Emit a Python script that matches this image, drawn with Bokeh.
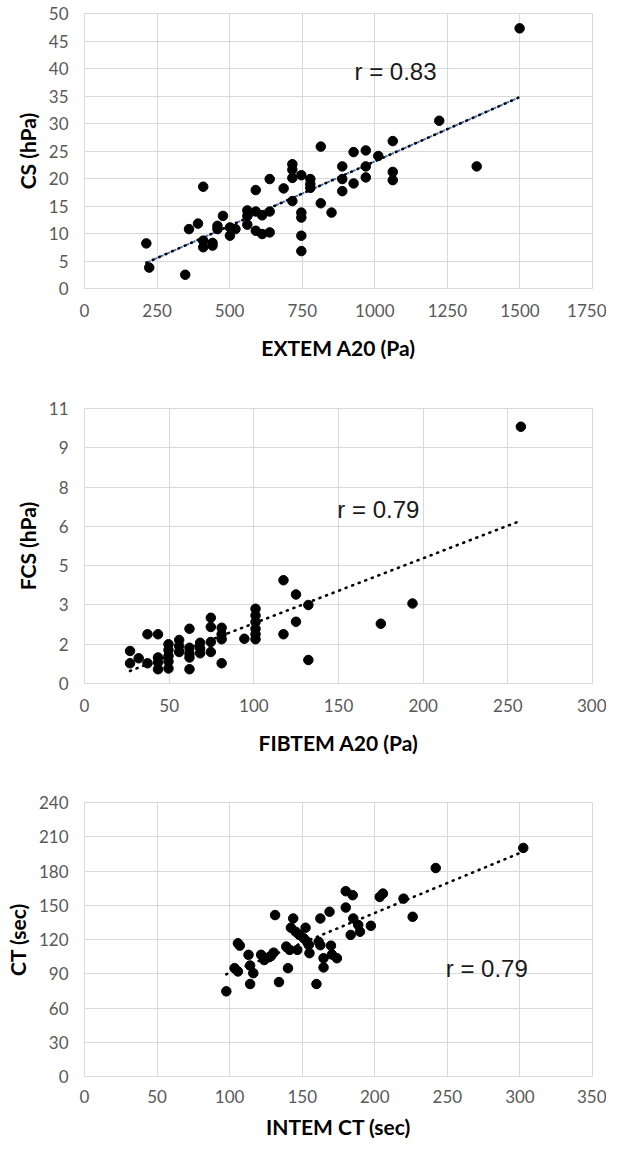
import numpy as np
from bokeh.plotting import figure
from bokeh.layouts import column
from bokeh.models import Range1d, FixedTicker, Label, CustomJSTickFormatter
from bokeh.embed import file_html
from bokeh.resources import INLINE

# ---------------- data ----------------
extem_a20 = [213, 223, 347, 360, 391, 409, 409, 409, 441, 441, 458, 458, 477, 501, 501, 520,
             561, 561, 561, 590, 590, 590, 612, 612, 638, 638, 638, 686, 716, 716, 716, 716,
             747, 747, 747, 747, 747, 778, 778, 778, 814, 814, 851, 888, 888, 888, 927, 927,
             969, 969, 969, 1012, 1062, 1062, 1062, 1222, 1351, 1499]
cs = [8.2, 3.8, 2.5, 10.8, 11.8, 18.5, 8.7, 7.5, 8.3, 7.8, 11.4, 10.8, 13.2, 11.1, 9.6, 10.8,
      14.2, 13.2, 11.6, 17.9, 14.0, 10.5, 13.3, 9.9, 19.9, 14.0, 10.2, 18.2, 22.6, 21.6, 20.1, 15.9,
      20.6, 13.8, 12.9, 9.6, 6.8, 19.9, 19.0, 18.3, 25.8, 15.5, 13.8, 22.2, 19.9, 17.7, 24.8, 19.1,
      25.1, 22.2, 20.2, 24.1, 26.8, 21.2, 19.7, 30.5, 22.2, 47.3]

fibtem_a20 = [26.9, 26.9, 32, 37.2, 37.2, 43.4, 43.4, 43.4, 43.4, 49.6, 49.6, 49.6, 49.6, 49.6,
              55.9, 55.9, 55.9, 62, 62, 62, 62, 62, 68.3, 68.3, 68.3, 74.6, 74.6, 74.6, 74.6,
              81, 81, 81, 81, 94.4, 101, 101, 101, 101, 101, 101, 117.5, 117.5, 124.9, 124.9,
              132.2, 132.2, 175, 193.7, 257.7]
fcs = [1.30, 0.81, 1.01, 1.97, 0.81, 1.97, 1.04, 0.84, 0.57, 1.57, 1.34, 1.10, 0.88, 0.60,
       1.74, 1.50, 1.26, 2.19, 1.43, 1.20, 1.04, 0.57, 1.63, 1.40, 1.21, 2.63, 2.26, 1.66, 1.26,
       2.23, 1.97, 1.77, 0.81, 1.79, 2.99, 2.72, 2.46, 2.19, 1.97, 1.77, 4.13, 1.97, 3.56, 2.47,
       3.14, 0.94, 2.39, 3.20, 10.27]

intem_ct = [97.7, 103.4, 105.7, 105.7, 107.0, 113.0, 114.1, 116.3, 114.1, 121.7, 123.8, 127.2,
            130.3, 128.5, 131.3, 134.0, 139.0, 141.4, 140.2, 143.8, 142.2, 145.5, 148.0, 146.6,
            152.3, 151.1, 153.4, 154.5, 155.0, 159.8, 162.5, 168.8, 161.3, 162.5, 164.7, 164.7,
            169.8, 170.5, 173.9, 180.0, 184.8, 180.0, 185.2, 188.6, 189.8, 183.4, 197.3, 203.4,
            205.6, 219.8, 226.1, 242.0, 302.3]
ct = [74.6, 94.9, 92.0, 116.7, 114.6, 106.6, 97.2, 90.5, 81.0, 106.6, 102.0, 104.5,
      108.5, 105.5, 141.4, 82.7, 113.8, 110.9, 94.9, 138.4, 130.3, 126.8, 124.0, 110.9,
      130.3, 121.0, 118.0, 115.2, 108.0, 81.0, 138.4, 144.3, 118.0, 115.0, 103.6, 95.5,
      114.6, 106.8, 103.6, 162.3, 158.8, 148.0, 138.4, 132.7, 126.8, 124.0, 132.0, 157.3,
      160.2, 155.8, 139.9, 182.6, 200.2]

extem_xticks = [0, 250, 500, 750, 1000, 1250, 1500, 1750]
cs_yticks = [0, 5, 10, 15, 20, 25, 30, 35, 40, 45, 50]
fibtem_xticks = [0, 50, 100, 150, 200, 250, 300]
fcs_yticks = [i * 11 / 7 for i in range(8)]
fcs_ytick_labels = ["0", "2", "3", "5", "6", "8", "9", "11"]
intem_xticks = [0, 50, 100, 150, 200, 250, 300, 350]
ct_yticks = [0, 30, 60, 90, 120, 150, 180, 210, 240]
r_texts = ["r = 0.83", "r = 0.79", "r = 0.79"]

TICK_FONT = "Lato"
TICK_SIZE = "17px"
TICK_COLOR = "#595959"
GRID = "#d9d9d9"


def panel(x, y, xmax, ymax, xticks, yticks, xlabel, ylabel, w, h, bl, br, bt, bb,
          r_text, rx, ry, blue=False, ylabels=None, lab_standoff=15, title_standoff=15):
    p = figure(width=w, height=h, min_border_left=bl, min_border_right=br,
               min_border_top=bt, min_border_bottom=bb, x_range=Range1d(0, xmax),
               y_range=Range1d(0, ymax), output_backend="svg", toolbar_location=None,
               background_fill_color="white", border_fill_color="white")
    p.outline_line_color = GRID
    p.xaxis.ticker = FixedTicker(ticks=xticks)
    p.yaxis.ticker = FixedTicker(ticks=yticks)
    if ylabels is not None:
        p.yaxis.formatter = CustomJSTickFormatter(args=dict(tvals=yticks, tlabels=ylabels), code="""
            let b = 0;
            for (let i = 0; i < tvals.length; i++) {
                if (Math.abs(tvals[i] - tick) < Math.abs(tvals[b] - tick)) b = i;
            }
            return tlabels[b];
        """)
    for ax in (p.xaxis[0], p.yaxis[0]):
        ax.axis_line_color = GRID
        ax.major_tick_line_color = None
        ax.minor_tick_line_color = None
        ax.major_tick_out = 0
        ax.major_tick_in = 0
        ax.major_label_text_font = TICK_FONT
        ax.major_label_text_font_size = TICK_SIZE
        ax.major_label_text_color = TICK_COLOR
        ax.axis_label_text_font = TICK_FONT
        ax.axis_label_text_font_style = "bold"
        ax.axis_label_text_font_size = "21px"
        ax.axis_label_text_color = "#000000"
    p.xaxis.axis_label = xlabel
    p.yaxis.axis_label = ylabel
    p.xaxis.major_label_standoff = lab_standoff
    p.xaxis.axis_label_standoff = title_standoff
    p.yaxis.major_label_standoff = 16
    p.yaxis.axis_label_standoff = 6
    p.xgrid.ticker = FixedTicker(ticks=xticks)
    p.ygrid.ticker = FixedTicker(ticks=yticks)
    p.xgrid.grid_line_color = GRID
    p.ygrid.grid_line_color = GRID
    p.xgrid.grid_line_width = 1
    p.ygrid.grid_line_width = 1

    xa = np.array(x, dtype=float)
    ya = np.array(y, dtype=float)
    slope, intercept = np.polyfit(xa, ya, 1)
    tx = np.array([xa.min(), xa.max()])
    ty = slope * tx + intercept
    if blue:
        p.line(tx, ty, line_color="#4472C4", line_width=2, line_dash="1 6",
               line_dash_offset=4, line_cap="round")
    p.line(tx, ty, line_color="black", line_width=2.6, line_dash="1 6", line_cap="round")

    p.scatter(x, y, size=9.5, fill_color="black", line_color="black")

    p.add_layout(Label(x=rx, y=ry, text=r_text, text_font="Liberation Sans",
                       text_font_size="24px", text_baseline="middle", text_align="left",
                       text_color="#1a1a1a"))
    return p


# 606 px wide column, total height 1141
p1 = panel(extem_a20, cs, 1750, 50, extem_xticks, cs_yticks, "EXTEM A20 (Pa)", "CS (hPa)",
           606, 367, 73, 14, 13, 79, r_texts[0], 930, 39.4, blue=True)
p2 = panel(fibtem_a20, fcs, 300, 11, fibtem_xticks, fcs_yticks, "FIBTEM A20 (Pa)", "FCS (hPa)",
           606, 405, 73, 9, 41, 89, r_texts[1], 149.3, 6.95, ylabels=fcs_ytick_labels)
p3 = panel(intem_ct, ct, 350, 240, intem_xticks, ct_yticks, "INTEM CT (sec)", "CT (sec)",
           606, 369, 84, 9, 30, 63, r_texts[2], 248.9, 95.0, lab_standoff=13, title_standoff=8)

layout = column(p1, p2, p3, spacing=0)
open("out.html", "w").write(file_html(layout, INLINE))
